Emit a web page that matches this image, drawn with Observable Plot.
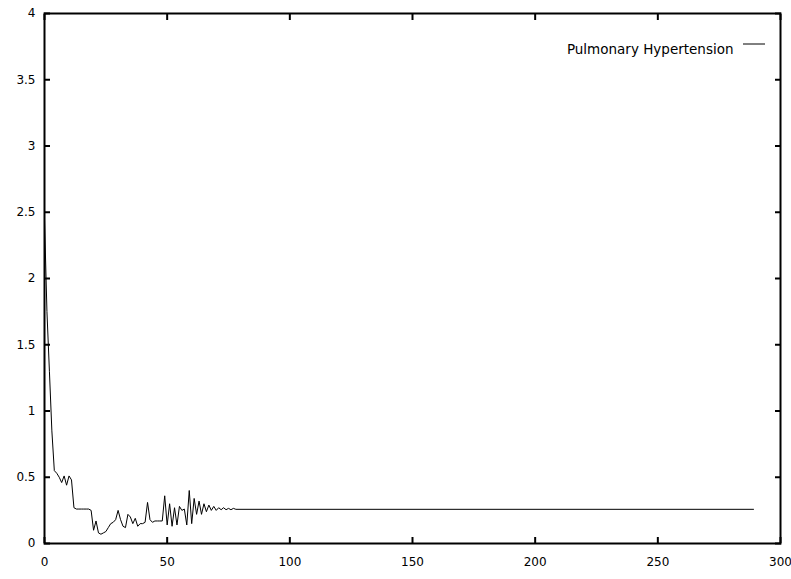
<!DOCTYPE html>
<html>
<head>
<meta charset="utf-8">
<script src="https://cdn.jsdelivr.net/npm/d3@7"></script>
<script src="https://cdn.jsdelivr.net/npm/@observablehq/plot@0.6"></script>
<style>
  html, body { margin: 0; padding: 0; background: #fff; }
  #chart { width: 791px; height: 579px; }
</style>
</head>
<body>
<div id="chart"></div>
<script>
const seriesName = "Pulmonary Hypertension";
const xValues = [0,1,2,3,4,5,6,7,8,9,10,11,12,13,14,15,16,17,18,19,20,21,22,23,24,25,26,27,28,29,30,31,32,33,34,35,36,37,38,39,40,41,42,43,44,45,46,47,48,49,50,51,52,53,54,55,56,57,58,59,60,61,62,63,64,65,66,67,68,69,70,71,72,73,74,75,76,77,78,289];
const yValues = [2.45,1.75,1.3,0.85,0.55,0.53,0.50,0.46,0.51,0.44,0.51,0.48,0.27,0.26,0.26,0.26,0.26,0.26,0.26,0.25,0.10,0.17,0.08,0.07,0.08,0.09,0.12,0.15,0.16,0.18,0.25,0.18,0.13,0.12,0.22,0.20,0.15,0.19,0.13,0.15,0.15,0.16,0.31,0.18,0.16,0.17,0.17,0.17,0.17,0.36,0.14,0.30,0.13,0.27,0.14,0.28,0.25,0.26,0.14,0.40,0.15,0.34,0.22,0.32,0.22,0.30,0.24,0.29,0.25,0.28,0.25,0.27,0.255,0.27,0.255,0.265,0.255,0.265,0.258,0.258];
const xTicks = [0,50,100,150,200,250,300];
const yTicks = [0,0.5,1,1.5,2,2.5,3,3.5,4];

const data = xValues.map((x, i) => ({x, y: yValues[i]}));
const font = "DejaVu Sans, sans-serif";

const chart = Plot.plot({
  width: 791,
  height: 579,
  marginLeft: 44,
  marginRight: 11,
  marginTop: 13,
  marginBottom: 36,
  style: {fontFamily: font, fontSize: "12px", color: "black", background: "white"},
  x: {domain: [0, 300]},
  y: {domain: [0, 4]},
  marks: [
    Plot.line(data, {x: "x", y: "y", stroke: "black", strokeWidth: 1}),
    Plot.axisY(yTicks, {anchor: "left", tickSize: -6, tickPadding: 15, label: null, tickFormat: d => String(d), strokeWidth: 2}),
    Plot.axisY(yTicks, {anchor: "right", tickSize: -6, label: null, tickFormat: () => "", strokeWidth: 2}),
    Plot.axisX(xTicks, {anchor: "bottom", tickSize: -6, tickPadding: 20, label: null, tickFormat: d => String(d), strokeWidth: 2}),
    Plot.axisX(xTicks, {anchor: "top", tickSize: -6, label: null, tickFormat: () => "", strokeWidth: 2}),
    Plot.frame({stroke: "black", strokeWidth: 2}),
    Plot.text([seriesName], {frameAnchor: "top-right", dx: -47, dy: 31, textAnchor: "end", fill: "black", fontSize: 13.5})
  ]
});
document.getElementById("chart").appendChild(chart);

// legend sample line
const svg = d3.select(chart.tagName.toLowerCase() === "svg" ? chart : chart.querySelector("svg"));
svg.append("line")
  .attr("x1", 743).attr("x2", 765)
  .attr("y1", 44).attr("y2", 44)
  .attr("stroke", "black").attr("stroke-width", 1);
</script>
</body>
</html>
